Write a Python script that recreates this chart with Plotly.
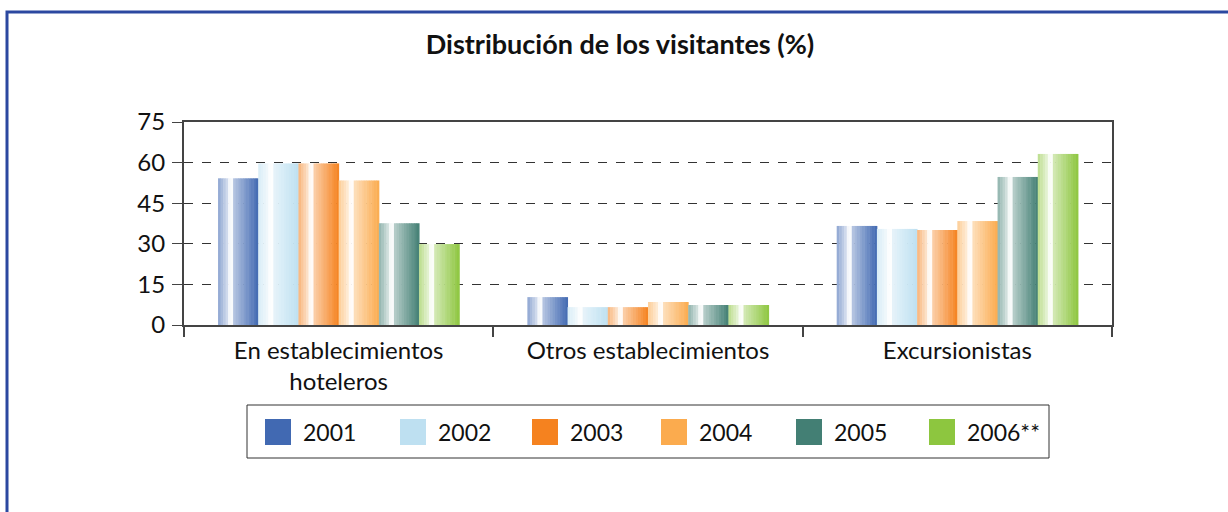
import plotly.graph_objects as go

# Visitor distribution (%) by accommodation type and year
categories = ["En establecimientos<br>hoteleros", "Otros establecimientos", "Excursionistas"]
years = ["2001", "2002", "2003", "2004", "2005", "2006**"]
v2001 = [54.2, 10.3, 36.6]
v2002 = [59.7, 6.6, 35.5]
v2003 = [59.7, 6.6, 35.1]
v2004 = [53.4, 8.5, 38.4]
v2005 = [37.6, 7.4, 54.7]
v2006 = [29.9, 7.4, 63.2]
series = [v2001, v2002, v2003, v2004, v2005, v2006]
colors = ["#4169b2", "#bee0f1", "#f5821f", "#fbab4e", "#437f74", "#8dc63f"]

W, H = 1228, 512
L, R, T, B = 184, 1112, 122, 325
FONT = "Lato, 'Open Sans', sans-serif"

# glossy cylinder look: white-mix fraction across the bar width
profile = [(0.0, 0.40), (0.22, 0.75), (0.30, 1.0), (0.36, 0.95), (0.40, 0.60), (1.0, 0.0)]


def white_mix(t):
    for (t0, w0), (t1, w1) in zip(profile[:-1], profile[1:]):
        if t <= t1:
            return w0 + (w1 - w0) * (t - t0) / (t1 - t0)
    return profile[-1][1]


def shade(hex_color, w):
    r, g, b = (int(hex_color[i:i + 2], 16) for i in (1, 3, 5))
    r, g, b = (round(c + (255 - c) * w) for c in (r, g, b))
    return f"rgb({r},{g},{b})"


fig = go.Figure()

bar_w = 0.13
n_slices = 16
start = -bar_w * len(years) / 2
for j, (name, vals, col) in enumerate(zip(years, series, colors)):
    for k in range(n_slices):
        t = (k + 0.5) / n_slices
        fig.add_trace(go.Bar(
            x=categories, y=vals,
            width=bar_w / n_slices + 0.0015,
            offset=start + j * bar_w + k * bar_w / n_slices,
            marker=dict(color=shade(col, white_mix(t)), line=dict(width=0)),
            showlegend=False, hoverinfo="skip" if k else None, name=name,
        ))


def px_x(px):
    return (px - L) / (R - L)


def px_y(py):
    return (B - py) / (B - T)


shapes = []
annotations = []

# outer frame
shapes.append(dict(type="rect", xref="paper", yref="paper",
                   x0=px_x(7), x1=px_x(1240), y0=px_y(12), y1=px_y(530),
                   line=dict(color="#2b48a0", width=3), fillcolor="rgba(0,0,0,0)", layer="below"))

# legend box with swatches
shapes.append(dict(type="rect", xref="paper", yref="paper",
                   x0=px_x(247), x1=px_x(1049), y0=px_y(405), y1=px_y(458),
                   line=dict(color="#333333", width=1), fillcolor="white"))
swatch_x = [265, 400, 532, 661, 796, 929]
for sx, name, col in zip(swatch_x, years, colors):
    shapes.append(dict(type="rect", xref="paper", yref="paper",
                       x0=px_x(sx), x1=px_x(sx + 26), y0=px_y(419), y1=px_y(445),
                       line=dict(width=0), fillcolor=col))
    annotations.append(dict(xref="paper", yref="paper", x=px_x(sx + 36), y=px_y(432),
                            xanchor="left", yanchor="middle", showarrow=False,
                            text=name, font=dict(family=FONT, size=23, color="#111111")))

fig.update_layout(
    width=W, height=H,
    margin=dict(l=L, r=W - R, t=T, b=H - B),
    paper_bgcolor="white", plot_bgcolor="white",
    barmode="overlay",
    showlegend=False,
    title=dict(text="<b>Distribución de los visitantes (%)</b>", x=620 / W, xref="container",
               xanchor="center", y=1 - 45 / H, yanchor="middle",
               font=dict(family=FONT, size=27, color="#111111")),
    font=dict(family=FONT, size=22, color="#111111"),
    shapes=shapes, annotations=annotations,
)
fig.update_xaxes(
    type="category", showline=True, mirror=True, linecolor="#444444", linewidth=2,
    ticks="outside", tickson="boundaries", ticklen=10, tickcolor="#444444", tickwidth=2,
    tickfont=dict(family=FONT, size=24, color="#111111"), showgrid=False,
    ticklabelstandoff=3,
)
fig.update_yaxes(
    range=[0, 75], dtick=15, tick0=0, showline=True, mirror=True,
    linecolor="#444444", linewidth=2,
    ticks="outside", ticklen=10, tickcolor="#444444", tickwidth=1,
    tickfont=dict(family=FONT, size=24, color="#111111"),
    showgrid=True, gridcolor="#333333", griddash="dash", gridwidth=1,
    zeroline=False, ticklabelstandoff=2,
)

fig.write_html("out.html")
